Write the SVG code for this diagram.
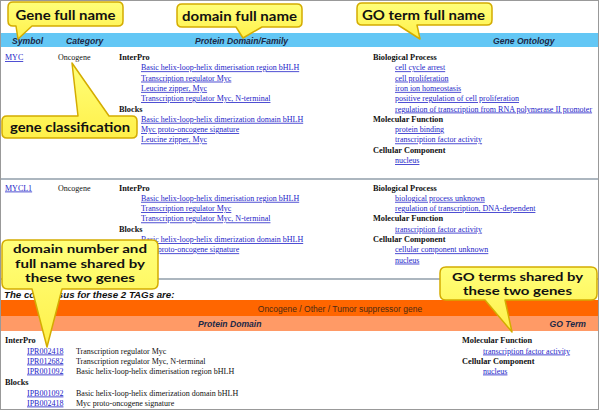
<svg xmlns="http://www.w3.org/2000/svg" width="600" height="411" viewBox="0 0 600 411">
<defs>
<linearGradient id="yel" x1="0" y1="0" x2="0" y2="1">
<stop offset="0" stop-color="#FFFF7A"/>
<stop offset="1" stop-color="#FFF04A"/>
</linearGradient>
</defs>
<style>
.hd{font-family:"Liberation Sans",Arial,sans-serif;font-style:italic;font-weight:bold;font-size:8.6px;fill:#1c2846}
.t{font-family:"Liberation Serif","Times New Roman",serif;font-size:8px;fill:#111}
.b{font-family:"Liberation Serif","Times New Roman",serif;font-size:8.3px;font-weight:bold;fill:#111}
.l{font-family:"Liberation Serif","Times New Roman",serif;font-size:8px;fill:#2424c8;text-decoration:underline}
.sep{stroke:#5b6f80;stroke-width:1.2}
.co{fill:url(#yel);stroke:#D4AC00;stroke-width:1.5;stroke-linejoin:round}
.ct{font-family:Lato,"Open Sans",sans-serif;font-weight:bold;font-size:14px;fill:#111;text-anchor:middle}
.cm{font-family:Lato,"Open Sans",sans-serif;font-weight:bold;font-size:12px;fill:#111;text-anchor:middle}
</style>
<rect x="0.5" y="0.5" width="598" height="409" fill="#fff" stroke="#999" stroke-width="1"/>

<g id="header">
<rect x="1" y="33" width="597" height="14" fill="#63C7F5"/>
<text class="hd" x="12" y="44">Symbol</text>
<text class="hd" x="66" y="44">Category</text>
<text class="hd" x="195" y="44">Protein Domain/Family</text>
<text class="hd" x="493" y="44">Gene Ontology</text>
</g>

<g id="row-myc">
<text class="l" x="5" y="60">MYC</text>
<text class="t" x="58" y="60">Oncogene</text>
<text class="b" x="119" y="60">InterPro</text>
<text class="l" x="141" y="70.3">Basic helix-loop-helix dimerisation region bHLH</text>
<text class="l" x="141" y="80.6">Transcription regulator Myc</text>
<text class="l" x="141" y="90.9">Leucine zipper, Myc</text>
<text class="l" x="141" y="101.2">Transcription regulator Myc, N-terminal</text>
<text class="b" x="119" y="111.5">Blocks</text>
<text class="l" x="141" y="121.8">Basic helix-loop-helix dimerization domain bHLH</text>
<text class="l" x="141" y="132.1">Myc proto-oncogene signature</text>
<text class="l" x="141" y="142.4">Leucine zipper, Myc</text>
<text class="b" x="373" y="60">Biological Process</text>
<text class="l" x="395" y="70.3">cell cycle arrest</text>
<text class="l" x="395" y="80.6">cell proliferation</text>
<text class="l" x="395" y="90.9">iron ion homeostasis</text>
<text class="l" x="395" y="101.2">positive regulation of cell proliferation</text>
<text class="l" x="395" y="111.5">regulation of transcription from RNA polymerase II promoter</text>
<text class="b" x="373" y="121.8">Molecular Function</text>
<text class="l" x="395" y="132.1">protein binding</text>
<text class="l" x="395" y="142.4">transcription factor activity</text>
<text class="b" x="373" y="152.7">Cellular Component</text>
<text class="l" x="395" y="163">nucleus</text>
</g>

<line class="sep" x1="1" y1="179" x2="598" y2="179"/>

<g id="row-mycl1">
<text class="l" x="5" y="190.5">MYCL1</text>
<text class="t" x="58" y="190.5">Oncogene</text>
<text class="b" x="119" y="190.5">InterPro</text>
<text class="l" x="141" y="200.8">Basic helix-loop-helix dimerisation region bHLH</text>
<text class="l" x="141" y="211.1">Transcription regulator Myc</text>
<text class="l" x="141" y="221.4">Transcription regulator Myc, N-terminal</text>
<text class="b" x="119" y="231.7">Blocks</text>
<text class="l" x="141" y="242">Basic helix-loop-helix dimerization domain bHLH</text>
<text class="l" x="141" y="252.3">Myc proto-oncogene signature</text>
<text class="b" x="373" y="190.5">Biological Process</text>
<text class="l" x="395" y="200.8">biological process unknown</text>
<text class="l" x="395" y="211.1">regulation of transcription, DNA-dependent</text>
<text class="b" x="373" y="221.4">Molecular Function</text>
<text class="l" x="395" y="231.7">transcription factor activity</text>
<text class="b" x="373" y="242">Cellular Component</text>
<text class="l" x="395" y="252.3">cellular component unknown</text>
<text class="l" x="395" y="262.6">nucleus</text>
</g>

<line class="sep" x1="1" y1="279" x2="598" y2="279"/>

<g id="consensus">
<text x="4" y="298" style="font-family:'Liberation Sans',Arial,sans-serif;font-style:italic;font-weight:bold;font-size:9.7px;fill:#111">The consensus for these 2 TAGs are:</text>
<rect x="1" y="300" width="597" height="16" fill="#FF6600"/>
<rect x="1" y="316" width="597" height="15" fill="#FF9A66"/>
<text x="340" y="312" text-anchor="middle" style="font-family:'Liberation Sans',Arial,sans-serif;font-size:8.5px;fill:#4a2a14">Oncogene / Other / Tumor suppressor gene</text>
<text class="hd" x="198" y="327">Protein Domain</text>
<text class="hd" x="586" y="327" text-anchor="end">GO Term</text>
<text class="b" x="5" y="343.3">InterPro</text>
<text class="l" x="27" y="353.5">IPR002418</text>
<text class="t" x="76" y="353.5">Transcription regulator Myc</text>
<text class="l" x="27" y="363.5">IPR012682</text>
<text class="t" x="76" y="363.5">Transcription regulator Myc, N-terminal</text>
<text class="l" x="27" y="373.5">IPR001092</text>
<text class="t" x="76" y="373.5">Basic helix-loop-helix dimerisation region bHLH</text>
<text class="b" x="5" y="384.5">Blocks</text>
<text class="l" x="27" y="395.5">IPB001092</text>
<text class="t" x="76" y="395.5">Basic helix-loop-helix dimerization domain bHLH</text>
<text class="l" x="27" y="405.5">IPB002418</text>
<text class="t" x="76" y="405.5">Myc proto-oncogene signature</text>
<text class="b" x="462" y="343.3">Molecular Function</text>
<text class="l" x="483" y="353.5">transcription factor activity</text>
<text class="b" x="462" y="363.5">Cellular Component</text>
<text class="l" x="483" y="373.5">nucleus</text>
</g>

<g id="callout-gene-full-name">
<path class="co" d="M13,2 H118 Q123,2 123,7 V21 Q123,26 118,26 H32 L18,39 L16,26 H13 Q8,26 8,21 V7 Q8,2 13,2 Z"/>
<text class="ct" x="65.5" y="20" textLength="100" lengthAdjust="spacingAndGlyphs">Gene full name</text>
</g>
<g id="callout-domain-full-name">
<path class="co" d="M182,4 H297 Q302,4 302,9 V22 Q302,27 297,27 H262 L243,38 L236,27 H182 Q177,27 177,22 V9 Q177,4 182,4 Z"/>
<text class="ct" x="239.5" y="21" textLength="115" lengthAdjust="spacingAndGlyphs">domain full name</text>
</g>
<g id="callout-go-term-full-name">
<path class="co" d="M362,3 H487 Q492,3 492,8 V20 Q492,25 487,25 H417 L420,39 L398,25 H362 Q357,25 357,20 V8 Q357,3 362,3 Z"/>
<text class="ct" x="423.5" y="20" textLength="123" lengthAdjust="spacingAndGlyphs">GO term full name</text>
</g>
<g id="callout-gene-classification">
<path class="co" d="M7,116 H78 L72,63 L109,116 H132 Q137,116 137,121 V133 Q137,138 132,138 H7 Q2,138 2,133 V121 Q2,116 7,116 Z"/>
<text class="ct" x="70" y="132" textLength="120" lengthAdjust="spacingAndGlyphs">gene classification</text>
</g>
<g id="callout-shared-domains">
<path class="co" d="M8,240 H152 Q158,240 158,246 V283 Q158,289 152,289 H62 L47,347 L32,289 H8 Q2,289 2,283 V246 Q2,240 8,240 Z"/>
<text class="cm" x="80" y="253" textLength="134" lengthAdjust="spacingAndGlyphs">domain number and</text>
<text class="cm" x="80" y="267.6" textLength="130" lengthAdjust="spacingAndGlyphs">full name shared by</text>
<text class="cm" x="80" y="282.2" textLength="110" lengthAdjust="spacingAndGlyphs">these two genes</text>
</g>
<g id="callout-shared-go-terms">
<path class="co" d="M446,267 H591 Q597,267 597,273 V294 Q597,300 591,300 H505 L512,332 L485,300 H446 Q440,300 440,294 V273 Q440,267 446,267 Z"/>
<text class="cm" x="517.5" y="280.6" textLength="131" lengthAdjust="spacingAndGlyphs">GO terms shared by</text>
<text class="cm" x="517.5" y="295.2" textLength="109" lengthAdjust="spacingAndGlyphs">these two genes</text>
</g>
</svg>
